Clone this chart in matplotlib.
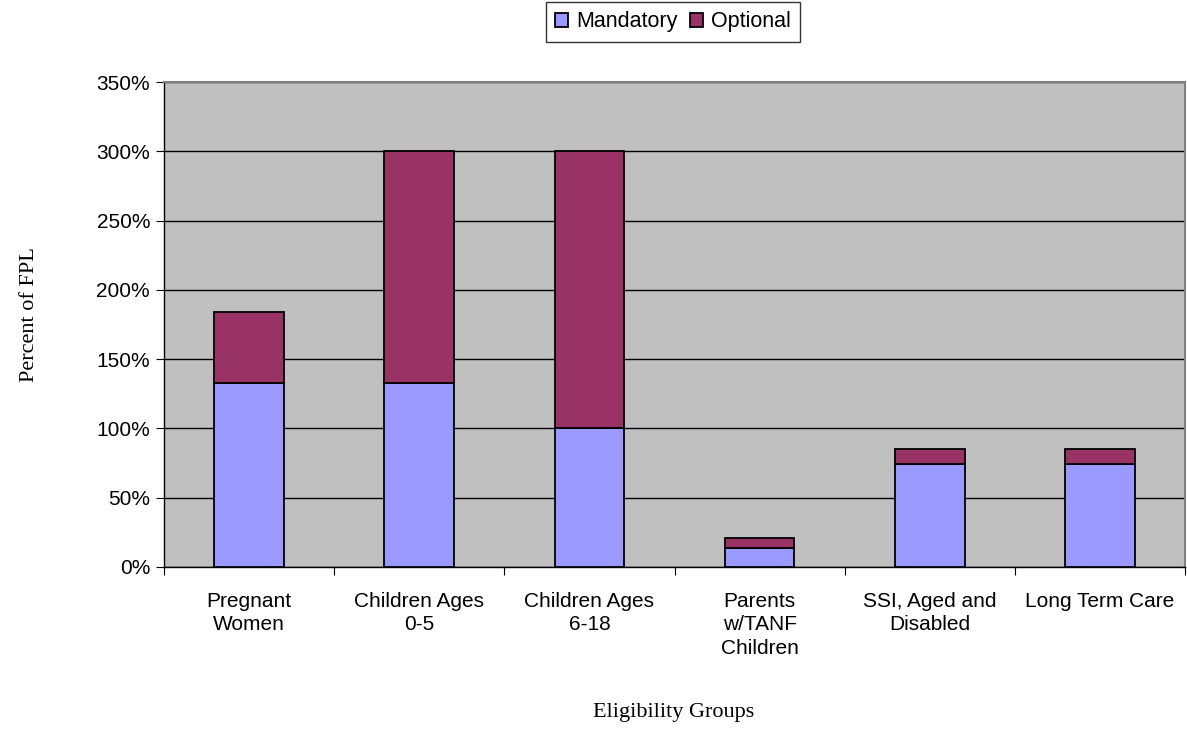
import matplotlib
matplotlib.use("Agg")
import matplotlib.pyplot as plt
import numpy as np
from matplotlib.ticker import FuncFormatter

categories = ["Pregnant\nWomen", "Children Ages\n0-5", "Children Ages\n6-18",
              "Parents\nw/TANF\nChildren", "SSI, Aged and\nDisabled", "Long Term Care"]
mandatory = [133, 133, 100, 14, 74, 74]
optional = [51, 167, 200, 7, 11, 11]
yticks = [0, 50, 100, 150, 200, 250, 300, 350]

W, H = 1187, 729
L, R, T, B = 164, 1185, 82, 567

fig = plt.figure(figsize=(W/100, H/100), dpi=100)
ax = fig.add_axes([L/W, 1-B/H, (R-L)/W, (B-T)/H])
ax.set_facecolor("#C0C0C0")

x = np.arange(len(categories))
w = 0.41
b1 = ax.bar(x, mandatory, w, color="#9999FF", edgecolor="black", linewidth=1.3, label="Mandatory", zorder=3)
b2 = ax.bar(x, optional, w, bottom=mandatory, color="#993366", edgecolor="black", linewidth=1.3, label="Optional", zorder=3)

ax.set_xlim(-0.5, len(categories)-0.5)
ax.set_ylim(0, 350)
ax.set_yticks(yticks)
ax.yaxis.set_major_formatter(FuncFormatter(lambda v, p: f"{int(v)}%"))
ax.grid(axis="y", color="black", linewidth=1, zorder=1)
ax.set_axisbelow(True)

ax.set_xticks(np.arange(-0.5, len(categories)), minor=False)
ax.set_xticklabels([])
ax.set_xticks(x, minor=True)
ax.set_xticklabels(categories, minor=True, fontsize=15, family="Liberation Sans", linespacing=1.3)
ax.tick_params(axis="x", which="minor", length=0, pad=18)
ax.tick_params(axis="x", which="major", length=6, direction="out", color="black")
ax.tick_params(axis="y", length=6, direction="out", labelsize=15, pad=4)
for lab in ax.get_yticklabels():
    lab.set_family("Liberation Sans")

for s in ["left", "bottom"]:
    ax.spines[s].set_color("black")
    ax.spines[s].set_linewidth(1)
for s in ["top", "right"]:
    ax.spines[s].set_color("#808080")
    ax.spines[s].set_linewidth(1.5)

fig.text(30/W, 1-315/H, "Percent of FPL", rotation=90, ha="center", va="center",
         fontsize=16, family="Liberation Serif")
fig.text(674/W, 1-712/H, "Eligibility Groups", ha="center", va="center",
         fontsize=16, family="Liberation Serif")

leg = fig.legend(handles=[b1, b2], labels=["Mandatory", "Optional"], loc="center",
                 bbox_to_anchor=(673/W, 1-22/H), ncol=2, frameon=True, fancybox=False,
                 edgecolor="black", handlelength=0.6, handleheight=0.6, handletextpad=0.35,
                 columnspacing=0.6, borderpad=0.45, prop={"family": "Liberation Sans", "size": 15.5})
leg.get_frame().set_linewidth(1)

fig.savefig("out.png", dpi=100)
